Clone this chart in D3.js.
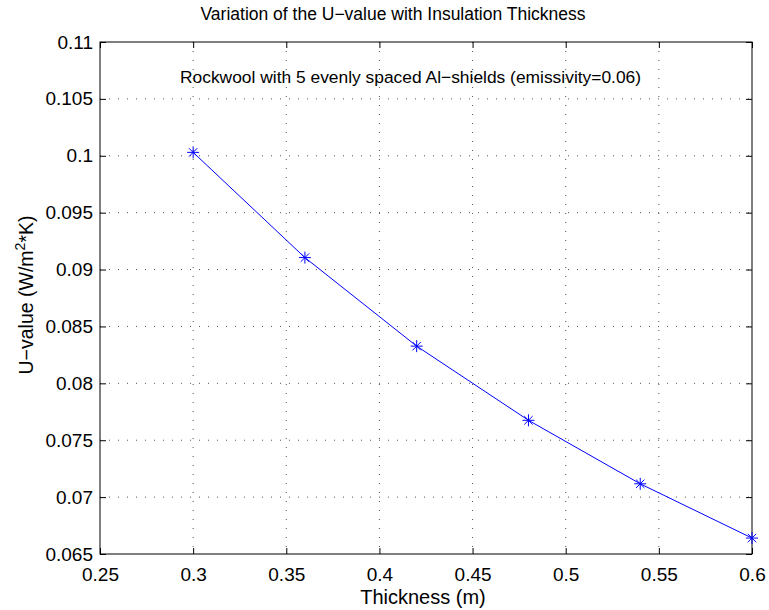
<!DOCTYPE html>
<html>
<head>
<meta charset="utf-8">
<script src="https://cdn.jsdelivr.net/npm/d3@7"></script>
<style>
  body { margin: 0; background: #fff; overflow: hidden; }
  svg { display: block; }
  text { font-family: "Liberation Sans", Arial, Helvetica, sans-serif; fill: #000; }
</style>
</head>
<body>
<div id="chart"></div>
<script>
// dados
const thickness = [0.30, 0.36, 0.42, 0.48, 0.54, 0.60];
const uValue = [0.1003, 0.09105, 0.08327, 0.07675, 0.07117, 0.0664];
const xTicks = [0.25, 0.3, 0.35, 0.4, 0.45, 0.5, 0.55, 0.6];
const yTicks = [0.065, 0.07, 0.075, 0.08, 0.085, 0.09, 0.095, 0.1, 0.105, 0.11];

const width = 769;
const height = 610;
const margin = { top: 42, right: 17, bottom: 56, left: 100 };
const innerWidth = width - margin.left - margin.right;
const innerHeight = height - margin.top - margin.bottom;

const svg = d3.select("#chart")
    .append("svg")
    .attr("width", width)
    .attr("height", height);

const g = svg.append("g")
    .attr("transform", `translate(${margin.left}, ${margin.top})`);

const xScale = d3.scaleLinear().domain([0.25, 0.6]).range([0, innerWidth]);
const yScale = d3.scaleLinear().domain([0.065, 0.11]).range([innerHeight, 0]);

const fmt = d => String(+d.toFixed(3));

// grade pontilhada
g.selectAll(".vgrid")
    .data(xTicks.slice(1, -1))
    .enter().append("line")
    .attr("x1", d => xScale(d)).attr("x2", d => xScale(d))
    .attr("y1", 0).attr("y2", innerHeight)
    .attr("stroke", "#555").attr("stroke-dasharray", "1,8");

g.selectAll(".hgrid")
    .data(yTicks.slice(1, -1))
    .enter().append("line")
    .attr("x1", 0).attr("x2", innerWidth)
    .attr("y1", d => yScale(d)).attr("y2", d => yScale(d))
    .attr("stroke", "#555").attr("stroke-dasharray", "1,8");

// eixos
g.append("g")
    .attr("transform", `translate(0, ${innerHeight})`)
    .call(d3.axisBottom(xScale).tickValues(xTicks).tickFormat(fmt).tickSizeInner(-6).tickSizeOuter(0).tickPadding(13.5));

g.append("g")
    .call(d3.axisLeft(yScale).tickValues(yTicks).tickFormat(fmt).tickSizeInner(-6).tickSizeOuter(0).tickPadding(7));

const topAxis = g.append("g")
    .call(d3.axisTop(xScale).tickValues(xTicks).tickSizeInner(-6).tickSizeOuter(0));

const rightAxis = g.append("g")
    .attr("transform", `translate(${innerWidth}, 0)`)
    .call(d3.axisRight(yScale).tickValues(yTicks).tickSizeInner(-6).tickSizeOuter(0));

topAxis.selectAll("text").remove();
rightAxis.selectAll("text").remove();
g.selectAll(".domain").remove();
g.selectAll(".tick line").attr("stroke", "#000");
g.selectAll(".tick text").attr("font-size", 19).attr("fill", "#000");

g.append("rect")
    .attr("width", innerWidth).attr("height", innerHeight)
    .attr("fill", "none").attr("stroke", "#000").attr("stroke-width", 1);

// linha
const line = d3.line()
    .x((d, i) => xScale(thickness[i]))
    .y(d => yScale(d));

g.append("path")
    .datum(uValue)
    .attr("d", line)
    .attr("fill", "none")
    .attr("stroke", "#0000ff")
    .attr("stroke-width", 1);

// marcadores em asterisco
g.selectAll(".star")
    .data(uValue)
    .enter().append("path")
    .attr("class", "star")
    .attr("transform", (d, i) => `translate(${xScale(thickness[i])}, ${yScale(d)})`)
    .attr("d", "M-6,0H6M0,-6V6M-4.2,-4.2L4.2,4.2M-4.2,4.2L4.2,-4.2")
    .attr("stroke", "#0000ff")
    .attr("stroke-width", 1)
    .attr("fill", "none");

// textos
svg.append("text")
    .attr("x", 393)
    .attr("y", 20)
    .attr("text-anchor", "middle")
    .attr("font-size", 17.5)
    .text("Variation of the U\u2212value with Insulation Thickness");

svg.append("text")
    .attr("x", 180)
    .attr("y", 83)
    .attr("font-size", 17.4)
    .text("Rockwool with 5 evenly spaced Al\u2212shields (emissivity=0.06)");

svg.append("text")
    .attr("x", 423)
    .attr("y", 604)
    .attr("text-anchor", "middle")
    .attr("font-size", 20)
    .text("Thickness (m)");

const yl = svg.append("text")
    .attr("transform", `translate(33, 295) rotate(-90)`)
    .attr("text-anchor", "middle")
    .attr("font-size", 19.5);
yl.append("tspan").text("U\u2212value (W/m");
yl.append("tspan").attr("font-size", 14).attr("dy", -8).text("2");
yl.append("tspan").attr("dy", 8).text("*K)");
</script>
</body>
</html>
